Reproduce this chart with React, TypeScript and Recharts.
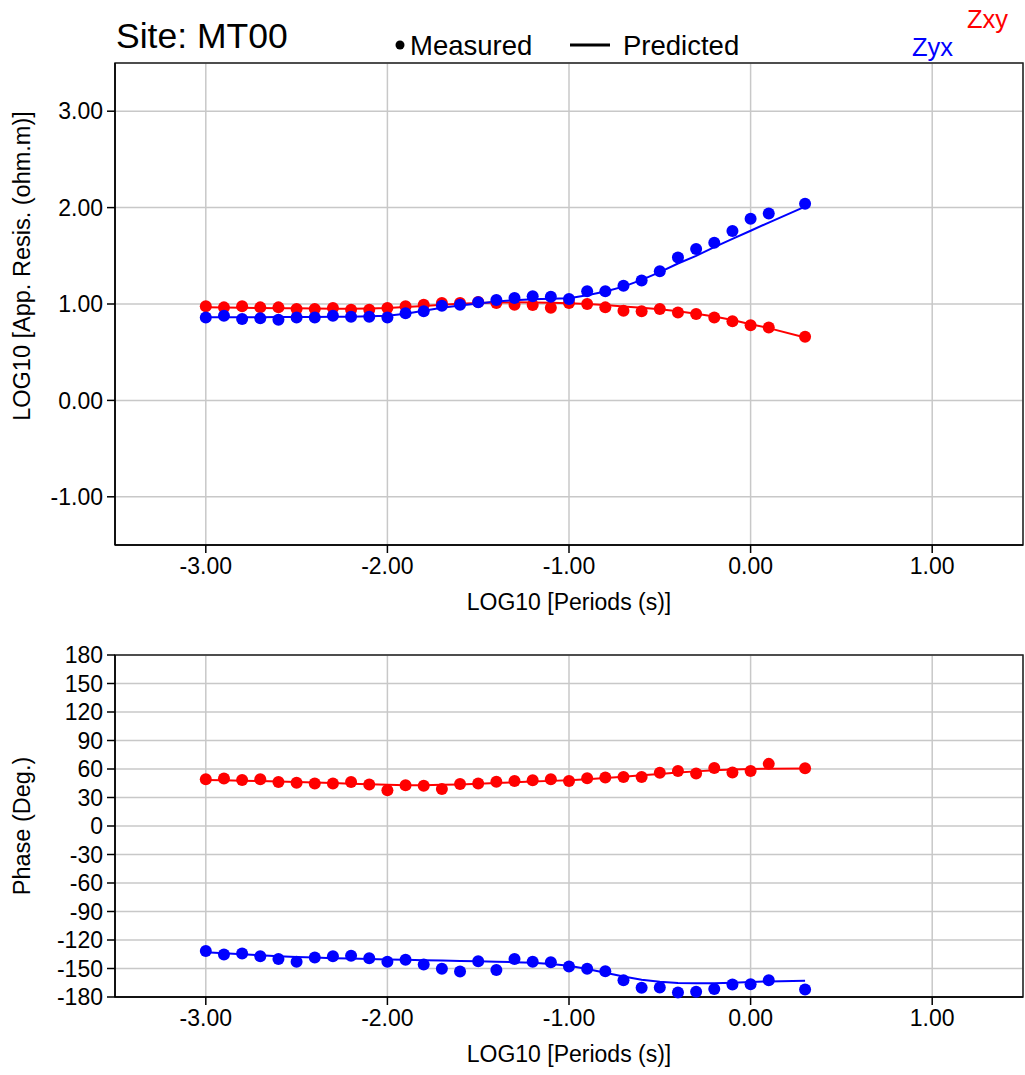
import {
  LineChart,
  Line,
  XAxis,
  YAxis,
  CartesianGrid,
  ReferenceArea,
  Label,
} from "recharts";

// log10 periods (s)
const periods = [
  -3.0, -2.9, -2.8, -2.7, -2.6, -2.5, -2.4, -2.3, -2.2, -2.1, -2.0, -1.9, -1.8,
  -1.7, -1.6, -1.5, -1.4, -1.3, -1.2, -1.1, -1.0, -0.9, -0.8, -0.7, -0.6, -0.5,
  -0.4, -0.3, -0.2, -0.1, 0.0, 0.1, 0.3,
];

// apparent resistivity, measured
const rhoXYMeas = [
  0.976, 0.965, 0.976, 0.965, 0.965, 0.948, 0.948, 0.958, 0.94, 0.94, 0.958,
  0.976, 0.993, 1.01, 1.01, 1.02, 1.01, 0.993, 0.99, 0.962, 1.01, 1.0, 0.965,
  0.93, 0.924, 0.948, 0.913, 0.896, 0.861, 0.82, 0.78, 0.757, 0.66,
];
const rhoYXMeas = [
  0.861, 0.878, 0.844, 0.851, 0.837, 0.861, 0.861, 0.878, 0.868, 0.868, 0.861,
  0.903, 0.924, 0.983, 0.993, 1.017, 1.042, 1.063, 1.08, 1.076, 1.052, 1.132,
  1.132, 1.19, 1.243, 1.34, 1.483, 1.57, 1.635, 1.757, 1.885, 1.94, 2.04,
];

// apparent resistivity, predicted
const rhoXYPred = [
  0.965, 0.963, 0.961, 0.959, 0.957, 0.955, 0.953, 0.952, 0.952, 0.954, 0.958,
  0.968, 0.98, 0.992, 1.003, 1.01, 1.015, 1.017, 1.015, 1.012, 1.008, 1.0, 0.99,
  0.975, 0.96, 0.945, 0.925, 0.9, 0.87, 0.835, 0.79, 0.75, 0.653,
];
const rhoYXPred = [
  0.862, 0.862, 0.863, 0.863, 0.864, 0.865, 0.866, 0.867, 0.869, 0.872, 0.878,
  0.9, 0.93, 0.96, 0.985, 1.005, 1.025, 1.04, 1.05, 1.055, 1.06, 1.09, 1.13,
  1.18, 1.25, 1.33, 1.42, 1.5, 1.59, 1.675, 1.76, 1.845, 2.01,
];

// phase, measured
const phiXYMeas = [
  49.2, 49.9, 48.4, 49.2, 46.3, 45.6, 44.8, 44.8, 46.3, 43.8, 37.6, 43.0, 42.3,
  39.0, 44.1, 44.8, 46.6, 47.4, 48.1, 49.2, 47.4, 50.3, 51.0, 51.7, 51.7, 56.0,
  57.8, 55.3, 61.0, 56.4, 57.8, 65.4, 60.7,
];
const phiYXMeas = [
  -131.7, -135.2, -134.1, -137.2, -140.0, -142.8, -138.3, -137.2, -136.6,
  -139.3, -142.8, -140.7, -145.9, -150.3, -153.1, -142.4, -151.7, -140.0,
  -142.8, -143.4, -147.9, -150.3, -152.8, -162.4, -170.3, -170.0, -175.2,
  -174.5, -171.7, -166.9, -166.6, -162.4, -172.1,
];

// phase, predicted
const phiXYPred = [
  48.5, 48.1, 47.7, 47.3, 46.8, 46.3, 45.8, 45.2, 44.6, 44.0, 43.3, 43.0, 43.0,
  43.3, 43.8, 44.5, 45.3, 46.0, 46.8, 47.5, 48.2, 49.2, 50.4, 51.8, 53.3, 54.8,
  56.2, 57.5, 58.6, 59.4, 60.0, 60.3, 60.5,
];
const phiYXPred = [
  -133, -134, -135, -136, -137, -137.8, -138.5, -139.1, -139.6, -140, -140.4,
  -140.8, -141.2, -141.6, -142, -142.4, -142.8, -143.3, -144, -145.2, -147.2,
  -150.5, -154.5, -158.5, -161.8, -164, -165.2, -165.6, -165.5, -165, -164.3,
  -163.6, -162.8,
];

const xTicks = [-3, -2, -1, 0, 1];
const resTicks = [-1, 0, 1, 2, 3];
const phaseTicks = [
  -180, -150, -120, -90, -60, -30, 0, 30, 60, 90, 120, 150, 180,
];

const FONT = '"Liberation Sans", Arial, Helvetica, sans-serif';
const RED = "#ff0000";
const BLUE = "#0000ff";
const GRID = "#c8c8c8";

const resRows = periods.map((p, i) => ({
  p,
  xyMeas: rhoXYMeas[i],
  yxMeas: rhoYXMeas[i],
  xyPred: rhoXYPred[i],
  yxPred: rhoYXPred[i],
}));

const phaseRows = periods.map((p, i) => ({
  p,
  xyMeas: phiXYMeas[i],
  yxMeas: phiYXMeas[i],
  xyPred: phiXYPred[i],
  yxPred: phiYXPred[i],
}));

// rotated y axis title
function sideTitle(text: string, cx: number, cy: number) {
  return () => (
    <text
      x={cx}
      y={cy}
      transform={`rotate(-90 ${cx} ${cy})`}
      textAnchor="middle"
      dominantBaseline="central"
      fontSize={23.5}
      fill="#000"
      fontFamily={FONT}
    >
      {text}
    </text>
  );
}

function series() {
  return [
    <Line
      key="xyp"
      dataKey="xyPred"
      stroke={RED}
      strokeWidth={2}
      dot={false}
      activeDot={false}
      isAnimationActive={false}
    />,
    <Line
      key="yxp"
      dataKey="yxPred"
      stroke={BLUE}
      strokeWidth={2}
      dot={false}
      activeDot={false}
      isAnimationActive={false}
    />,
    <Line
      key="xym"
      dataKey="xyMeas"
      stroke="none"
      dot={{ r: 6, fill: RED, stroke: "none" }}
      activeDot={false}
      isAnimationActive={false}
    />,
    <Line
      key="yxm"
      dataKey="yxMeas"
      stroke="none"
      dot={{ r: 6, fill: BLUE, stroke: "none" }}
      activeDot={false}
      isAnimationActive={false}
    />,
  ];
}

const tickStyle = { fill: "#000", fontSize: 23, fontFamily: FONT };

export default function App() {
  return (
    <div
      style={{
        position: "absolute",
        left: 0,
        top: 0,
        width: 1025,
        height: 1075,
        fontFamily: FONT,
        background: "#fff",
      }}
    >
      {/* header */}
      <svg
        width={1025}
        height={62}
        style={{ position: "absolute", left: 0, top: 0 }}
        fontFamily={FONT}
      >
        <text x={116} y={48} fontSize={35.5} fill="#000">
          Site: MT00
        </text>
        <circle cx={400} cy={45} r={4.5} fill="#000" />
        <text x={410} y={55} fontSize={27.5} fill="#000">
          Measured
        </text>
        <line x1={570} x2={610} y1={45} y2={45} stroke="#000" strokeWidth={3} />
        <text x={623} y={55} fontSize={27.5} fill="#000">
          Predicted
        </text>
        <text x={912} y={56} fontSize={25.5} fill={BLUE}>
          Zyx
        </text>
        <text x={967} y={28} fontSize={25.5} fill={RED}>
          Zxy
        </text>
      </svg>

      {/* apparent resistivity */}
      <div style={{ position: "absolute", left: 0, top: 0 }}>
        <LineChart
          width={1025}
          height={620}
          data={resRows}
          margin={{ top: 63, right: 2, left: 15, bottom: 5 }}
        >
          <CartesianGrid stroke={GRID} strokeWidth={1.5} />
          <XAxis
            dataKey="p"
            type="number"
            domain={[-3.5, 1.5]}
            ticks={xTicks}
            tickFormatter={(v: number) => v.toFixed(2)}
            height={70}
            stroke="#000"
            strokeWidth={1.5}
            tickSize={8}
            tickMargin={5}
            tick={tickStyle}
          >
            <Label
              value="LOG10 [Periods (s)]"
              position="insideBottom"
              offset={5}
              fontSize={23}
              fill="#000"
            />
          </XAxis>
          <YAxis
            type="number"
            domain={[-1.5, 3.5]}
            ticks={resTicks}
            tickFormatter={(v: number) => v.toFixed(2)}
            width={100}
            stroke="#000"
            strokeWidth={1.5}
            tickSize={8}
            tickMargin={4}
            tick={tickStyle}
          >
            <Label content={sideTitle("LOG10 [App. Resis. (ohm.m)]", 22, 266)} />
          </YAxis>
          <ReferenceArea
            x1={-3.5}
            x2={1.5}
            y1={-1.5}
            y2={3.5}
            fill="none"
            stroke="#222"
            strokeWidth={1.5}
          />
          {series()}
        </LineChart>
      </div>

      {/* phase */}
      <div style={{ position: "absolute", left: 0, top: 620 }}>
        <LineChart
          width={1025}
          height={455}
          data={phaseRows}
          margin={{ top: 35, right: 2, left: 15, bottom: 8 }}
        >
          <CartesianGrid stroke={GRID} strokeWidth={1.5} />
          <XAxis
            dataKey="p"
            type="number"
            domain={[-3.5, 1.5]}
            ticks={xTicks}
            tickFormatter={(v: number) => v.toFixed(2)}
            height={70}
            stroke="#000"
            strokeWidth={1.5}
            tickSize={8}
            tickMargin={5}
            tick={tickStyle}
          >
            <Label
              value="LOG10 [Periods (s)]"
              position="insideBottom"
              offset={5}
              fontSize={23}
              fill="#000"
            />
          </XAxis>
          <YAxis
            type="number"
            domain={[-180, 180]}
            ticks={phaseTicks}
            interval={0}
            width={100}
            stroke="#000"
            strokeWidth={1.5}
            tickSize={8}
            tickMargin={4}
            tick={tickStyle}
          >
            <Label content={sideTitle("Phase (Deg.)", 22, 206)} />
          </YAxis>
          <ReferenceArea
            x1={-3.5}
            x2={1.5}
            y1={-180}
            y2={180}
            fill="none"
            stroke="#222"
            strokeWidth={1.5}
          />
          {series()}
        </LineChart>
      </div>
    </div>
  );
}
